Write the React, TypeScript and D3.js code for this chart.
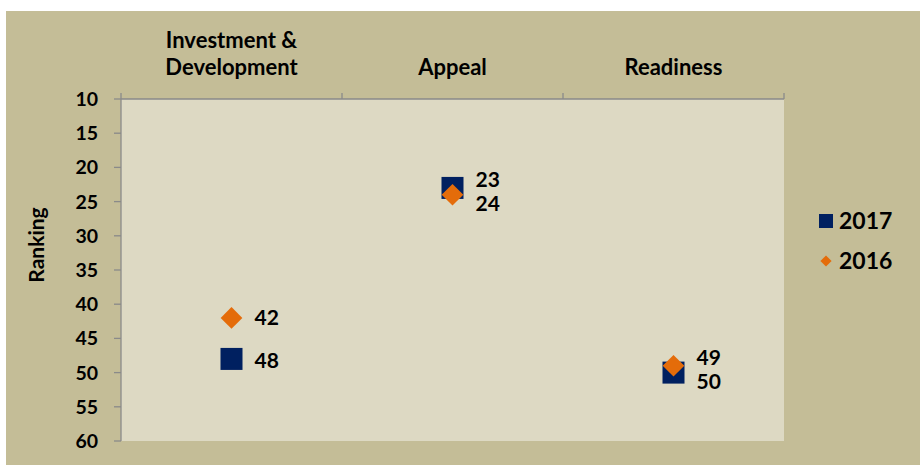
import React from "react";
import * as d3 from "d3";

const categories = ["Investment & Development", "Appeal", "Readiness"];
const categoryLines = [["Investment &", "Development"], ["Appeal"], ["Readiness"]];
const series2017 = [48, 23, 50];
const series2016 = [42, 24, 49];
const yTicks = [10, 15, 20, 25, 30, 35, 40, 45, 50, 55, 60];
const seriesNames = ["2017", "2016"];

const W = 920;
const H = 465;
const FONT = "Lato, 'Open Sans', 'DejaVu Sans', sans-serif";
const NAVY = "#002060";
const ORANGE = "#e46c0a";
const OUTER = "#c4bd97";
const PLOT = "#ddd9c3";
const AXIS = "#8a8a8a";

export default function App() {
  const x = d3.scaleBand<string>().domain(categories).range([121, 784]).padding(0);
  const y = d3.scaleLinear().domain([10, 60]).range([99, 441]);
  const cx = (c: string) => (x(c) as number) + x.bandwidth() / 2;

  const diamond = (s: number) => d3.symbol().type(d3.symbolDiamond2).size(s)() as string;

  // label vertical placement: separate labels when the two points are close
  const labelY = (i: number) => {
    const a = series2017[i];
    const b = series2016[i];
    if (Math.abs(a - b) < 4) {
      const mid = (y(a) + y(b)) / 2;
      return {
        y17: a < b ? mid - 12 : mid + 12,
        y16: b < a ? mid - 12 : mid + 12,
      };
    }
    return { y17: y(a) + 2, y16: y(b) };
  };

  return (
    <svg
      width={W}
      height={H}
      style={{ position: "absolute", left: 0, top: 0, display: "block" }}
      fontFamily={FONT}
    >
      <rect x={0} y={0} width={W} height={H} fill="#fff" />
      <rect x={6} y={11} width={W - 6} height={H - 11} fill={OUTER} />
      <rect x={121} y={99} width={784 - 121} height={441 - 99} fill={PLOT} />

      {/* axes */}
      <line x1={121} x2={784} y1={99} y2={99} stroke={AXIS} strokeWidth={1.3} />
      <line x1={121} x2={121} y1={93} y2={441} stroke={AXIS} strokeWidth={1.3} />
      {categories.map((c) => (
        <line key={c} x1={(x(c) as number) + x.bandwidth()} x2={(x(c) as number) + x.bandwidth()} y1={93} y2={99} stroke={AXIS} strokeWidth={1.3} />
      ))}
      {yTicks.map((t) => (
        <g key={t}>
          <line x1={114} x2={121} y1={y(t)} y2={y(t)} stroke={AXIS} strokeWidth={1.3} />
          <text x={98} y={y(t)} dy="0.36em" textAnchor="end" fontSize={19.5} fontWeight={700} fill="#000">
            {t}
          </text>
        </g>
      ))}

      {/* category labels */}
      {categories.map((c, i) => {
        const lines = categoryLines[i];
        return (
          <text key={c} textAnchor="middle" fontSize={22} fontWeight={700} fill="#000">
            {lines.map((l, j) => (
              <tspan key={l} x={cx(c)} y={75 - (lines.length - 1 - j) * 27}>
                {l}
              </tspan>
            ))}
          </text>
        );
      })}

      {/* y title */}
      <text transform="translate(44,245) rotate(-90)" textAnchor="middle" fontSize={21} fontWeight={700} fill="#000">
        Ranking
      </text>

      {/* 2017 markers */}
      {categories.map((c, i) => (
        <rect key={"s" + c} x={cx(c) - 11} y={y(series2017[i]) - 11} width={22} height={22} fill={NAVY} />
      ))}
      {/* 2016 markers */}
      {categories.map((c, i) => (
        <path key={"d" + c} d={diamond(300)} transform={`translate(${cx(c)},${y(series2016[i])})`} fill={ORANGE} />
      ))}

      {/* data labels */}
      {categories.map((c, i) => {
        const ly = labelY(i);
        return (
          <g key={"l" + c} fontSize={21} fontWeight={700} fill="#000">
            <text x={cx(c) + 23} y={ly.y17} dy="0.36em">{series2017[i]}</text>
            <text x={cx(c) + 23} y={ly.y16} dy="0.36em">{series2016[i]}</text>
          </g>
        );
      })}

      {/* legend */}
      <rect x={819} y={214} width={14} height={14} fill={NAVY} />
      <text x={839} y={221} dy="0.36em" fontSize={23} fontWeight={700} fill="#000">{seriesNames[0]}</text>
      <path d={diamond(80)} transform="translate(826,261)" fill={ORANGE} />
      <text x={839} y={261} dy="0.36em" fontSize={23} fontWeight={700} fill="#000">{seriesNames[1]}</text>
    </svg>
  );
}
